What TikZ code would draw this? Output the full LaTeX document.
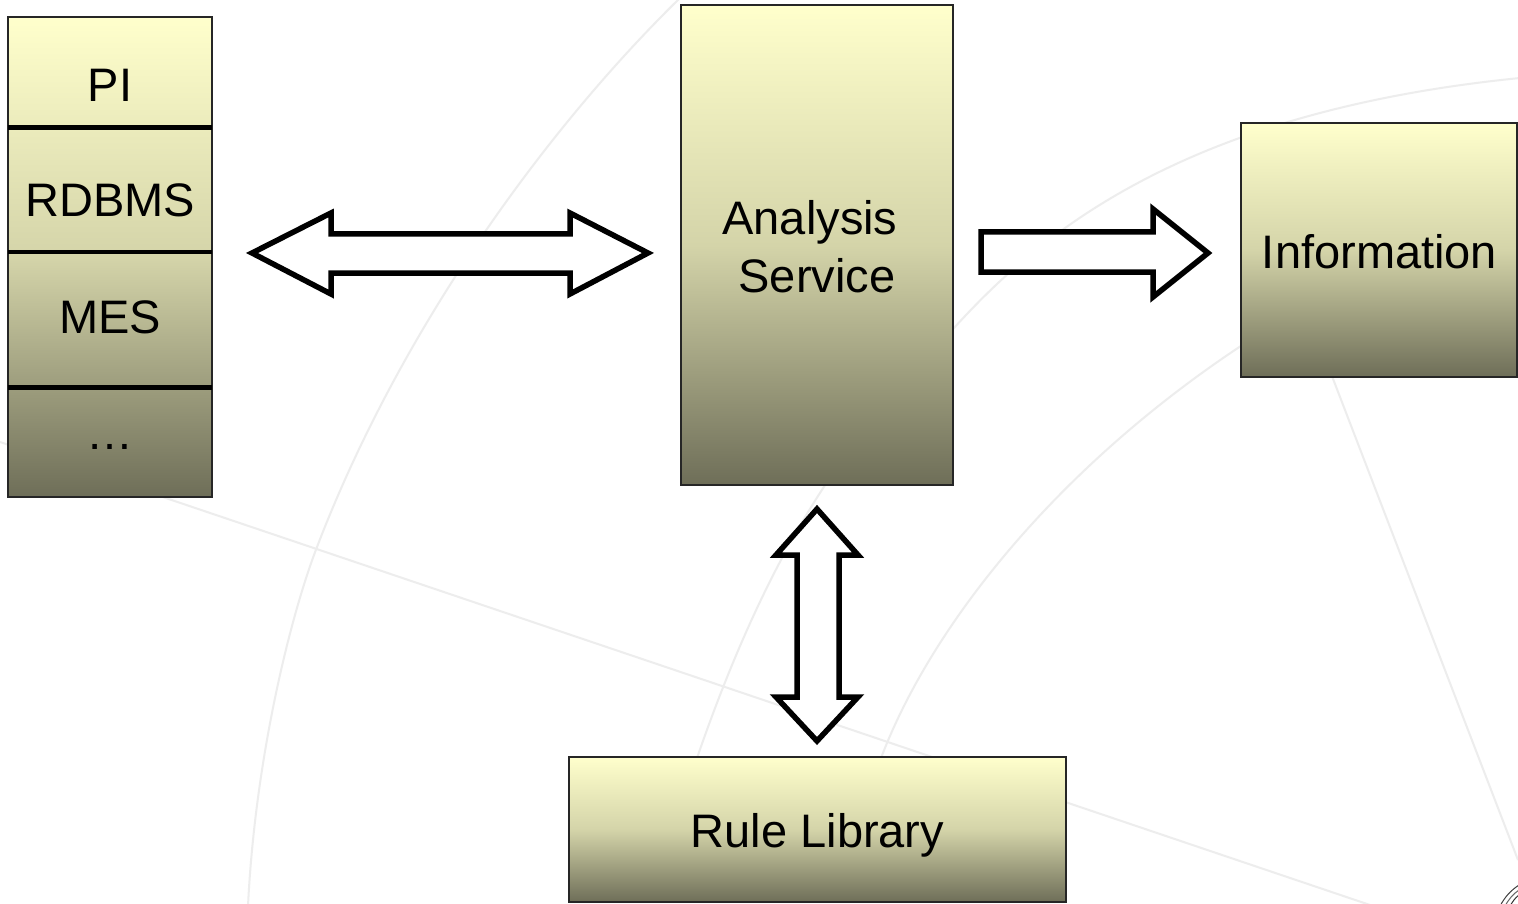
\documentclass[tikz,border=0pt]{standalone}
\usepackage{fontspec}
\setmainfont{Liberation Sans}
\definecolor{boxtop}{HTML}{FFFFCC}
\definecolor{boxmid}{HTML}{D4D4A9}
\definecolor{boxbot}{HTML}{6E6E58}
\definecolor{bgline}{HTML}{EDEDED}
\begin{document}
\begin{tikzpicture}[x=1pt,y=-1pt,
  bg/.style={draw=bgline, line width=2pt},
  box/.style={draw=black!85, line width=1.5pt, top color=boxtop, bottom color=boxbot, middle color=boxmid, inner sep=0pt},
  lbl/.style={anchor=base, font=\fontsize{47}{57}\selectfont, text=black, inner sep=0pt},
  divider/.style={draw=black, line width=4.5pt},
  blockarrow/.style={draw=black, fill=white, line width=5.5pt, line join=miter}]
\useasboundingbox (0,0) rectangle (1518,904);
\fill[white] (0,0) rectangle (1518,904);
% background watermark lines
\draw[bg] (680,-2) .. controls (545,130) and (400,330) .. (317,547) .. controls (290,617) and (255,760) .. (248,906);
\draw[bg] (0,442) -- (1373,906);
\draw[bg] (683,800) .. controls (725,670) and (790,505) .. (900,390) .. controls (980,300) and (1100,120) .. (1520,78);
\draw[bg] (875,775) .. controls (920,640) and (1050,470) .. (1250,340);
\draw[bg] (1320,345) -- (1518,860);
% corner fragment
\draw[black!75, line width=1pt] (1500,906) .. controls (1505,897) and (1510,891) .. (1519,885);
\draw[black!60, line width=1pt] (1505,906) .. controls (1509,899) and (1513,894) .. (1519,890);
\draw[black!80, line width=1pt] (1510,906) .. controls (1513,901) and (1515,898) .. (1519,895);
% boxes
\node[box, minimum width=204pt, minimum height=480pt] (stack) at (110,257) {};
\draw[divider] (8,127.5) -- (212,127.5);
\draw[divider] (8,252) -- (212,252);
\draw[divider] (8,387.5) -- (212,387.5);
\node[lbl] (pi) at (110,102) {PI};
\node[lbl] (rdbms) at (110,217) {RDBMS};
\node[lbl] (mes) at (110,333) {MES};
\node[lbl] (more) at (110,449) {…};
\node[box, minimum width=272pt, minimum height=480pt] (as) at (817,245) {};
\node[lbl] (as1) at (810,235) {Analysis};
\node[lbl] (as2) at (817,292) {Service};
\node[box, minimum width=276pt, minimum height=254pt] (info) at (1379,250) {};
\node[lbl] (infot) at (1379.5,268) {Information};
\node[box, minimum width=497pt, minimum height=145pt] (rule) at (817.5,829.5) {};
\node[lbl] (rulet) at (817.5,847) {Rule Library};
% block arrows
\draw[blockarrow] (252,253) -- (331,213) -- (331,234) -- (570,234) -- (570,213) -- (648,253) -- (570,294) -- (570,273) -- (331,273) -- (331,294) -- cycle;
\draw[blockarrow] (981,232) -- (1153,232) -- (1153,209) -- (1208,253) -- (1153,297) -- (1153,272) -- (981,272) -- cycle;
\draw[blockarrow] (817,509) -- (858,555) -- (839,555) -- (839,697) -- (858,697) -- (817,741) -- (776,697) -- (797,697) -- (797,555) -- (776,555) -- cycle;
\end{tikzpicture}
\end{document}
